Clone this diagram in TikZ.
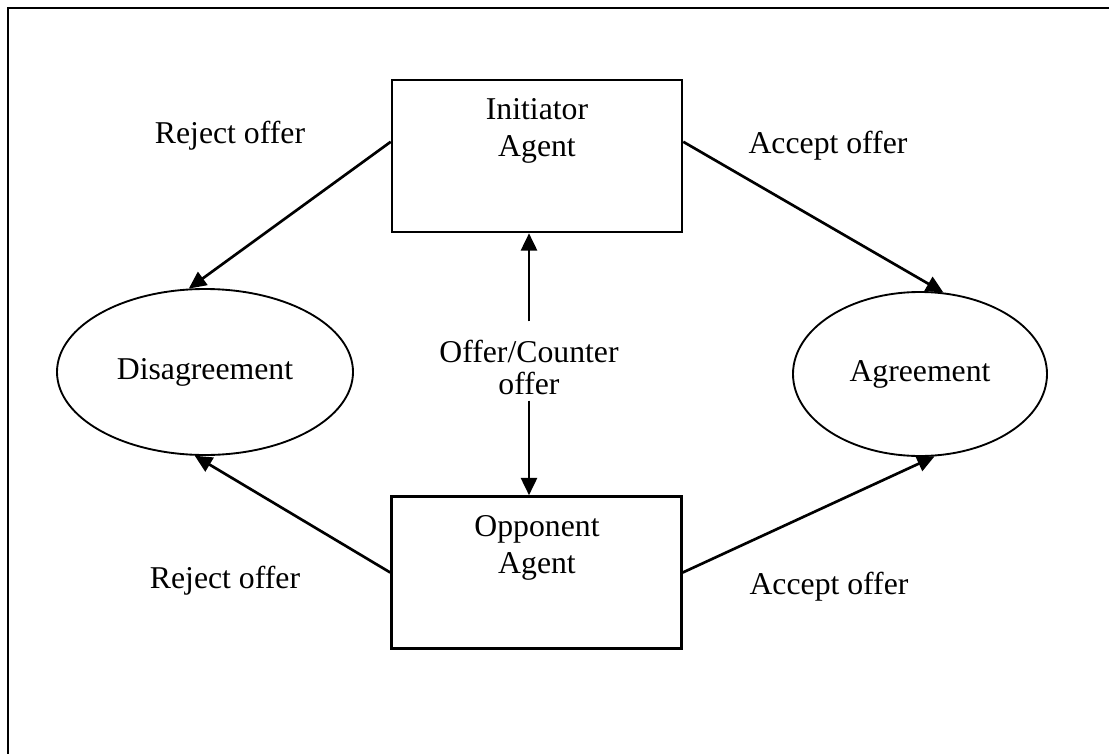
\documentclass[tikz,border=0pt]{standalone}
\usepackage{fontspec}
\setmainfont{Liberation Serif}
\usetikzlibrary{shapes.geometric,arrows.meta,calc}
\begin{document}
\begin{tikzpicture}[x=0.75pt,y=-0.75pt,
  every node/.style={font=\fontsize{23.8}{28}\selectfont},
  agentbox/.style={draw,line width=1.9pt,minimum width=217.5pt,minimum height=114pt,inner sep=0pt},
  outcome/.style={draw,ellipse,line width=1.4pt,inner sep=0pt},
  arr/.style={line width=2pt,-{Triangle[length=13pt,width=12pt]}},
  lbl/.style={anchor=base,inner sep=0pt},
  boxtext/.style={align=center,inner sep=0pt}]
\useasboundingbox (0,0) rectangle (1109,753);
\clip (0,0) rectangle (1109,753);
% outer frame
\draw[line width=2pt] (8,8) rectangle (1130,780);

% agents
\node[agentbox] (init) at (537,156) {};
\node[agentbox] (opp) at (536.5,572.5) {};
\node[boxtext] (initT) at (537,131) {Initiator\\Agent};
\node[boxtext] (oppT) at (537,548) {Opponent\\Agent};

% outcomes
\node[outcome,minimum width=222pt,minimum height=124.5pt] (dis) at (205,372) {Disagreement};
\node[outcome,minimum width=190.5pt,minimum height=123pt] (agr) at (920,374) {Agreement};

% offer exchange
\node[boxtext,font=\fontsize{23.8}{24}\selectfont] (offer) at (529,367) {Offer/Counter\\offer};
\draw[arr,shorten <=13.5pt] (offer.north) -- (offer.north |- init.south);
\draw[arr,shorten <=4.5pt] (offer.south) -- (offer.south |- opp.north);

% outcome arrows
\draw[arr] ($(init.north west)!0.408!(init.south west)$) -- (dis.101.6);
\draw[arr] ($(init.north east)!0.408!(init.south east)$) -- (agr.74.7);
\draw[arr] (opp.west) -- (dis.263);
\draw[arr] (opp.east) -- (agr.280);

% arrow labels
\node[lbl] (rejTop) at (230,143) {Reject offer};
\node[lbl] (accTop) at (828,153) {Accept offer};
\node[lbl] (rejBot) at (225,588) {Reject offer};
\node[lbl] (accBot) at (829,594) {Accept offer};
\end{tikzpicture}
\end{document}
